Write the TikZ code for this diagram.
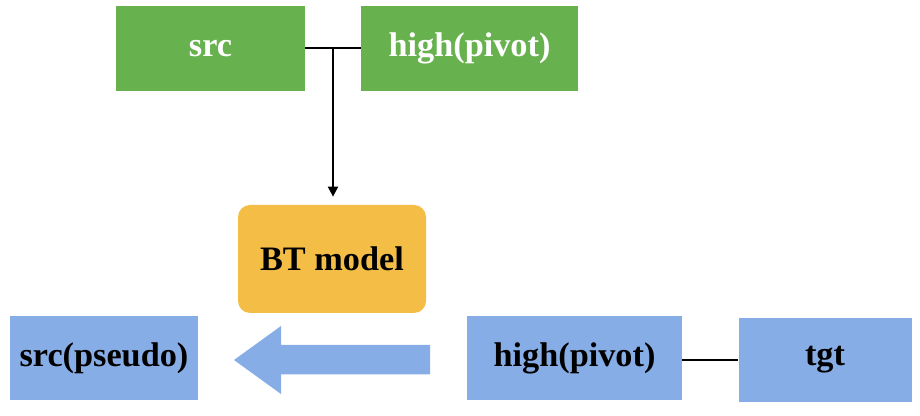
\documentclass[tikz,border=0pt]{standalone}
\usepackage{fontspec}
\setmainfont{Liberation Serif}
\usepackage{tikz}
\usetikzlibrary{arrows.meta}

\definecolor{boxgreen}{HTML}{67B14F}
\definecolor{boxgold}{HTML}{F4BE46}
\definecolor{boxblue}{HTML}{86ADE6}

\begin{document}
\begin{tikzpicture}[
    	greenbox/.style={shape=rectangle,fill=boxgreen,text=white,inner sep=0pt,minimum height=1.7cm},
    	bluebox/.style={shape=rectangle,fill=boxblue,text=black,inner sep=0pt,minimum height=1.68cm},
    	modelbox/.style={shape=rectangle,fill=boxgold,rounded corners=0.24cm,inner sep=0pt},
    	every node/.style={font=\fontsize{19.5}{22}\selectfont\bfseries}
    	]
    	\useasboundingbox (0, 0) rectangle (18.4, 8.32);
    	
    	\node[greenbox,minimum width=3.78cm] (src) at (4.21, 7.35)     {src};
    	\node[greenbox,minimum width=4.34cm] (high) at (9.39, 7.35)     {high(pivot)};
    	\node[modelbox,minimum width=3.76cm,minimum height=2.16cm] (bt) at (6.64, 3.14)     {BT model};
    	\node[bluebox,minimum width=3.76cm] (pseudo) at (2.08, 1.16)     {src(pseudo)};
    	\node[bluebox,minimum width=4.3cm] (pivot) at (11.49, 1.16)     {high(pivot)};
    	\node[bluebox,minimum width=3.46cm] (tgt) at (16.5, 1.12)     {tgt};
    	\coordinate (j) at (6.66, 7.35);
    	
    	\path[-, line width=0.04cm] (src) edge (high);
    	\path[-{Triangle[width=0.2cm,length=0.2cm]}, line width=0.04cm, shorten >=0.16cm] (j) edge (j |- bt.north);
    	\path[-, line width=0.04cm] (pivot.east |- tgt.west) edge (tgt.west);
    	
    	% big arrow from high(pivot) back to src(pseudo)
    	\fill[boxblue] (8.6, 1.42) -- (5.62, 1.42) -- (5.62, 1.8) -- (4.68, 1.12)
    	    -- (5.62, 0.44) -- (5.62, 0.83) -- (8.6, 0.83) -- cycle;
    	
\end{tikzpicture}
\end{document}
